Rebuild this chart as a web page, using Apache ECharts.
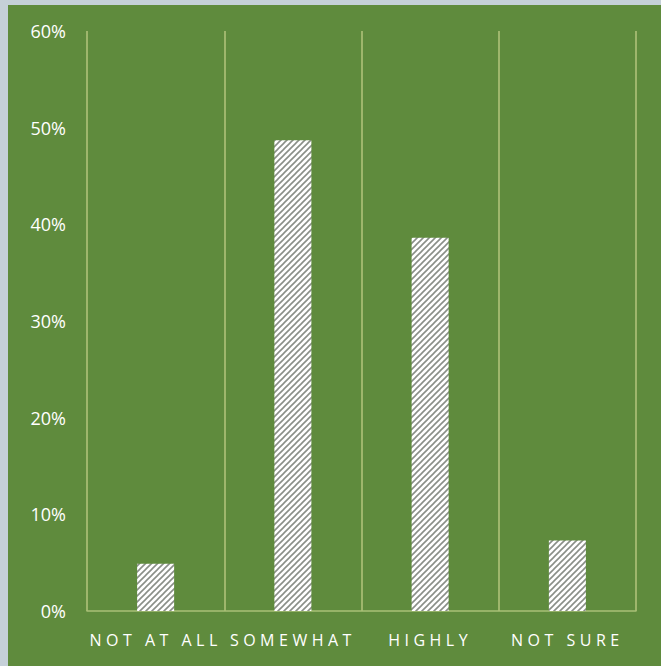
<!DOCTYPE html>
<html><head><meta charset="utf-8">
<script src="https://cdn.jsdelivr.net/npm/echarts@6/dist/echarts.min.js"></script>
<style>
html,body{margin:0;padding:0;background:#c5d0d8;width:661px;height:666px;overflow:hidden}
#c{position:absolute;left:8px;top:5px;width:653px;height:661px}
</style></head><body>
<div id="c"></div>
<script>
const categories = ['NOT AT ALL', 'SOMEWHAT', 'HIGHLY', 'NOT SURE'];
const values = [4.9, 48.7, 38.6, 7.3];
const yTicks = [0, 10, 20, 30, 40, 50, 60];

function hatch() {
  const s = 6;
  const cv = document.createElement('canvas');
  cv.width = s; cv.height = s;
  const g = cv.getContext('2d');
  g.fillStyle = '#ffffff'; g.fillRect(0, 0, s, s);
  g.strokeStyle = '#8a8f88'; g.lineWidth = 1.6;
  g.beginPath();
  g.moveTo(-1, s + 1); g.lineTo(s + 1, -1);
  g.moveTo(-1, 1); g.lineTo(1, -1);
  g.moveTo(s - 1, s + 1); g.lineTo(s + 1, s - 1);
  g.stroke();
  return cv;
}

const chart = echarts.init(document.getElementById('c'), null, { renderer: 'svg' });
chart.setOption({
  backgroundColor: '#5f8b3d',
  animation: false,
  grid: { left: 79, right: 25, top: 26, bottom: 55 },
  xAxis: {
    type: 'category',
    data: categories,
    axisLine: { show: true, lineStyle: { color: '#a9c077', width: 1.5 } },
    axisTick: { show: false },
    splitLine: { show: true, lineStyle: { color: '#b3c47c', width: 1.5 } },
    axisLabel: { color: '#ffffff', fontSize: 16, fontFamily: 'Open Sans', margin: 21, interval: 0 }
  },
  yAxis: {
    type: 'value',
    min: yTicks[0], max: yTicks[yTicks.length - 1], interval: 10,
    axisLine: { show: false },
    axisTick: { show: false },
    splitLine: { show: false },
    axisLabel: { color: '#ffffff', fontSize: 18, fontFamily: 'Open Sans', margin: 21, formatter: '{value}%' }
  },
  series: [{
    type: 'bar',
    data: values,
    barWidth: 37,
    itemStyle: { color: { image: hatch().toDataURL(), repeat: 'repeat' } }
  }]
});

function spaceLabels() {
  document.querySelectorAll('#c svg text').forEach(function (t) {
    if (categories.indexOf(t.textContent) >= 0) {
      t.style.letterSpacing = '4.5px';
    }
  });
}
chart.on('finished', spaceLabels);
spaceLabels();
setTimeout(spaceLabels, 50);
setTimeout(spaceLabels, 300);
</script>
</body></html>
